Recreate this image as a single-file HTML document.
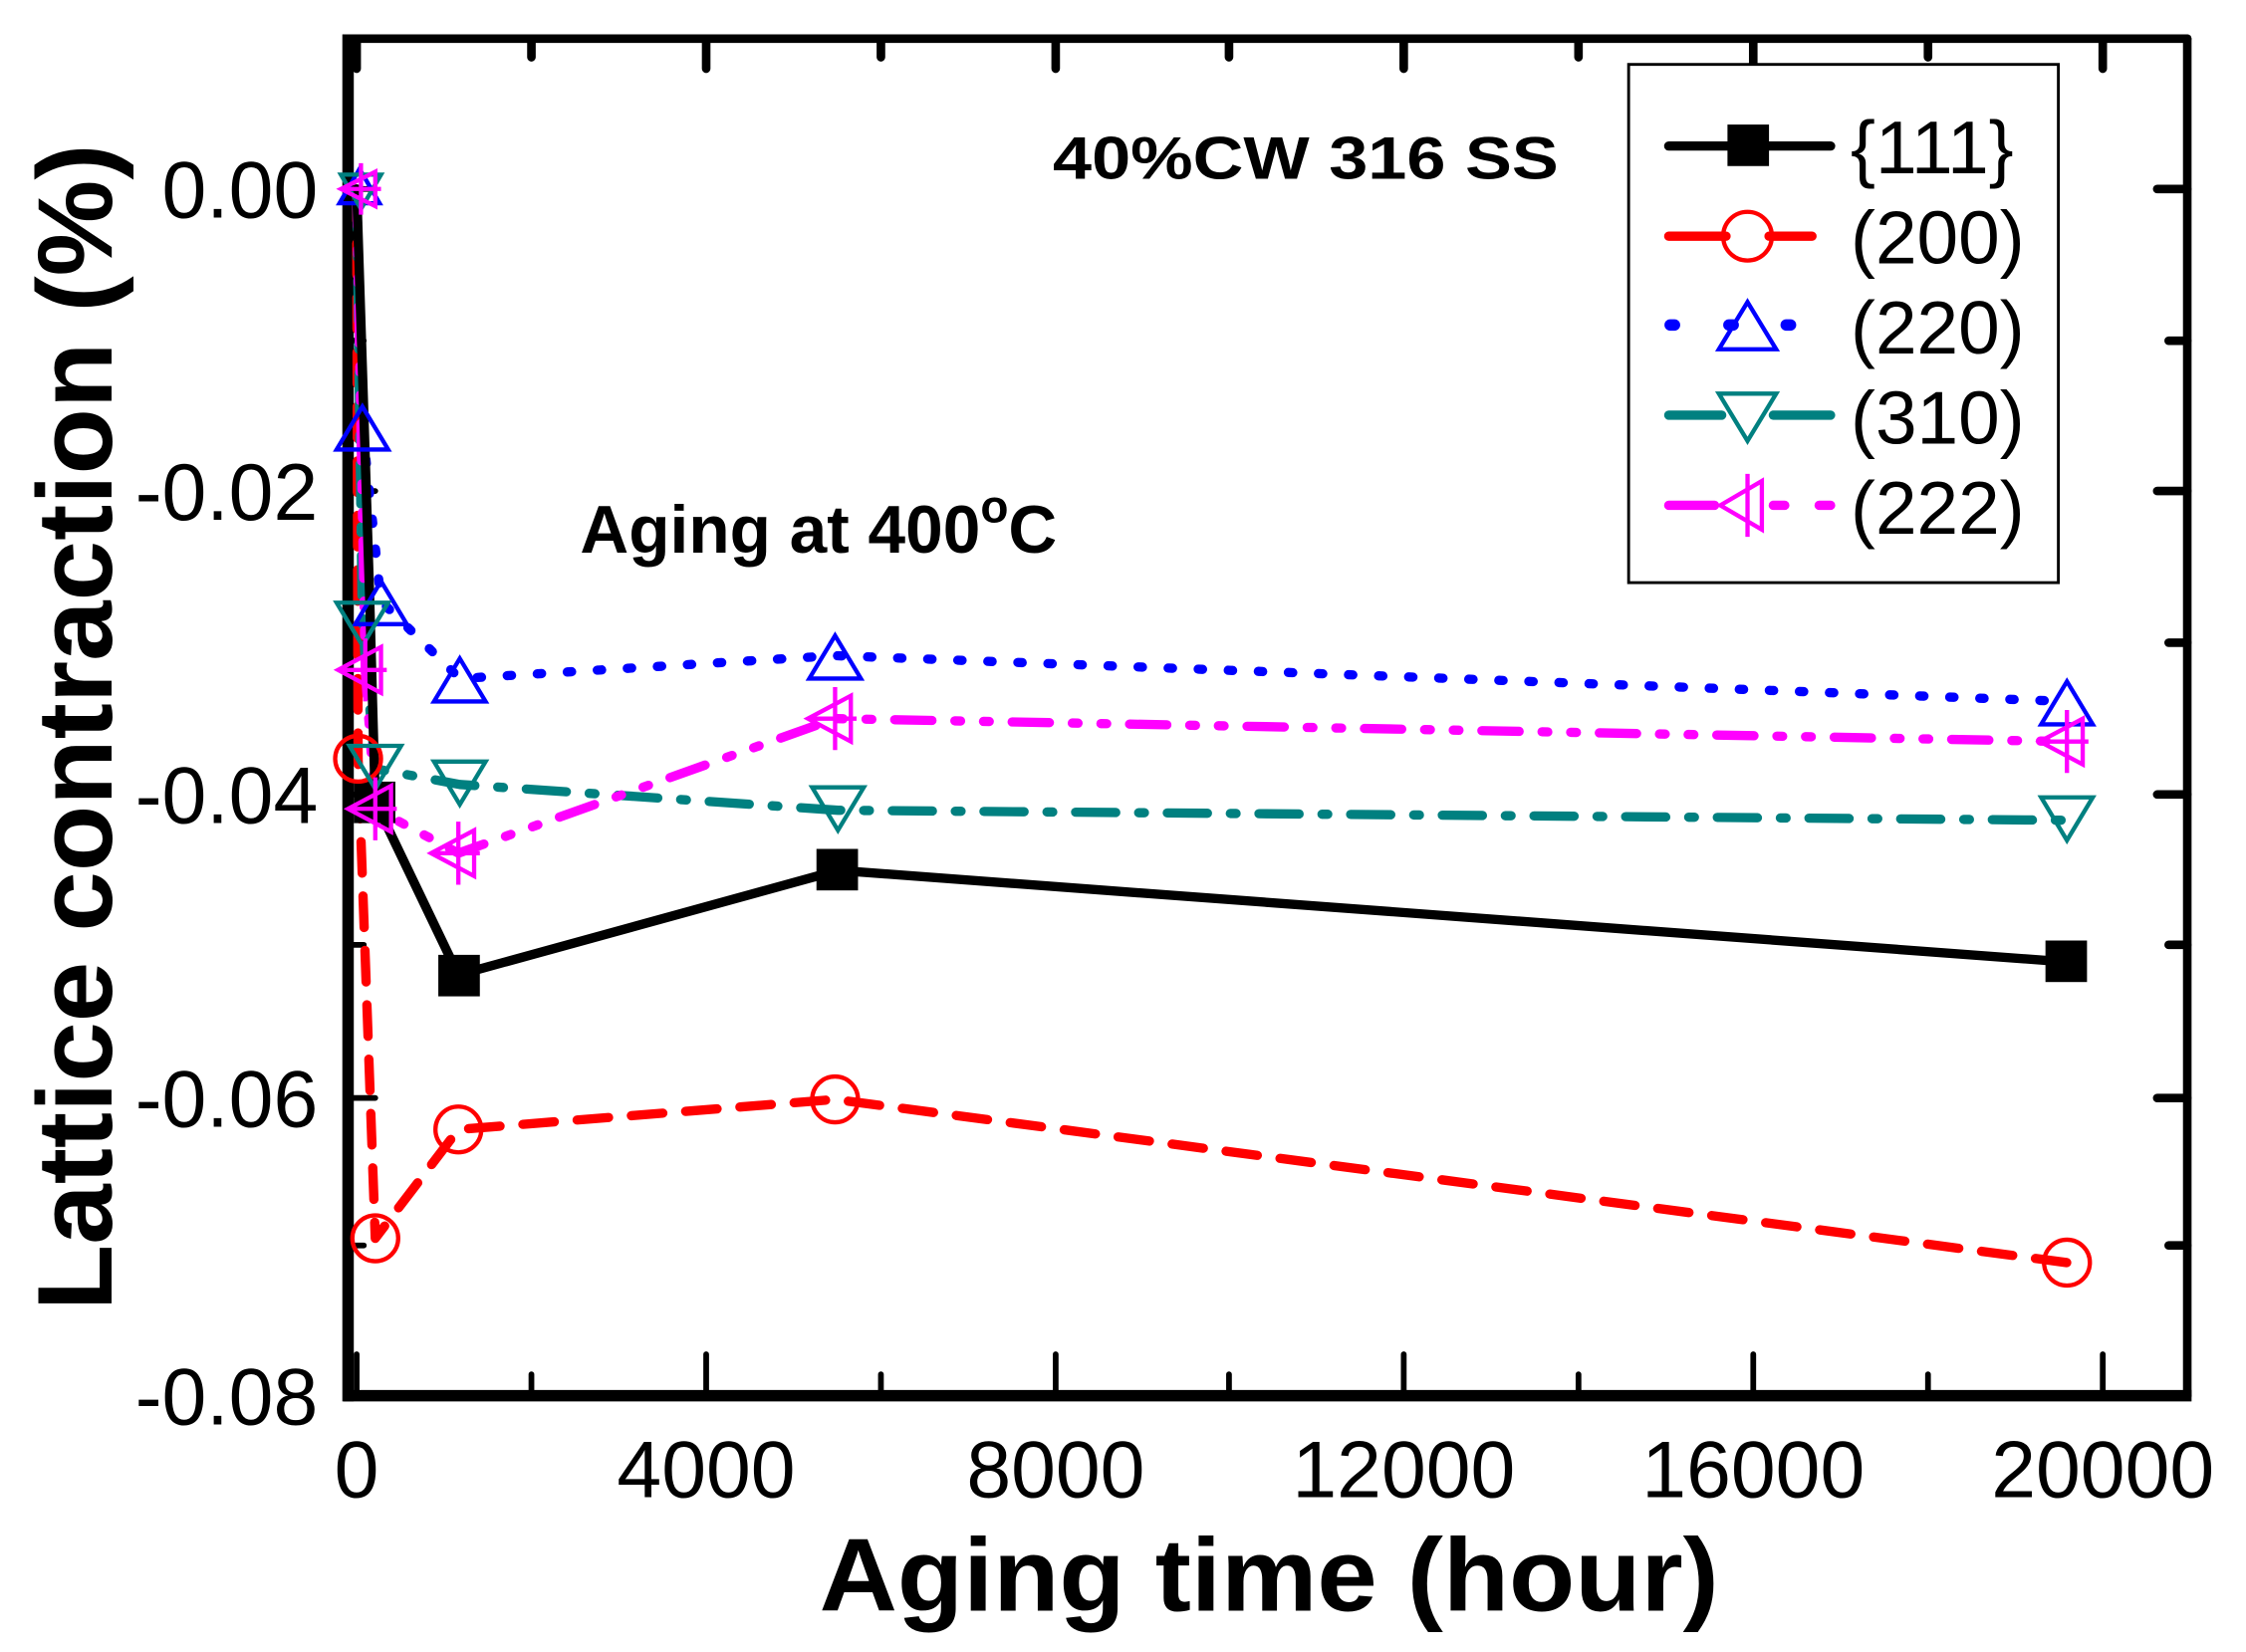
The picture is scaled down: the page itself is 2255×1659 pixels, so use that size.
<!DOCTYPE html>
<html><head><meta charset="utf-8"><style>
html,body{margin:0;padding:0;background:#fff;}
svg{display:block;}
text{font-family:"Liberation Sans",Arial,sans-serif;}
</style></head><body>
<svg width="2255" height="1659" viewBox="0 0 1568 1154" preserveAspectRatio="none" xmlns="http://www.w3.org/2000/svg">
<rect width="1568" height="1154" fill="#fff"/>
<g stroke="#000" stroke-linecap="round" fill="none">
<line x1="243" y1="27" x2="1527" y2="27" stroke-width="6"/>
<line x1="1527" y1="27" x2="1527" y2="975" stroke-width="6"/>
<line x1="243" y1="24" x2="243" y2="979" stroke-width="8" stroke-linecap="butt"/>
<line x1="240" y1="975" x2="1530" y2="975" stroke-width="8" stroke-linecap="butt"/>
<g stroke-width="4">
<path d="M249 975V946M493 975V946M737 975V946M980 975V946M1224 975V946M1468 975V946"/>
<path d="M371 975V960M615 975V960M858 975V960M1102 975V960M1346 975V960"/>
<path d="M249 27V48M493 27V48M737 27V48M980 27V48M1224 27V48M1468 27V48" stroke-width="6"/>
<path d="M371 27V40M615 27V40M858 27V40M1102 27V40M1346 27V40" stroke-width="6"/>
<path d="M1527 132H1506M1527 343H1506M1527 555H1506M1527 767H1506M1527 975H1506" stroke-width="6"/>
<path d="M1527 238H1514M1527 449H1514M1527 660H1514M1527 870H1514" stroke-width="6"/>
<path d="M243 132H262M243 343H262M243 555H262M243 767H262"/>
<path d="M243 238H254M243 449H254M243 660H254M243 870H254"/>
</g>
</g>
<g font-size="56" fill="#000" text-anchor="end">
<text x="222" y="152">0.00</text>
<text x="222" y="363">-0.02</text>
<text x="222" y="575">-0.04</text>
<text x="222" y="787">-0.06</text>
<text x="222" y="995">-0.08</text>
</g>
<g font-size="56" fill="#000" text-anchor="middle">
<text x="249" y="1046">0</text>
<text x="493" y="1046">4000</text>
<text x="737" y="1046">8000</text>
<text x="980" y="1046">12000</text>
<text x="1224" y="1046">16000</text>
<text x="1468" y="1046">20000</text>
</g>
<text x="886" y="1125" font-size="72" font-weight="bold" text-anchor="middle" textLength="628" lengthAdjust="spacingAndGlyphs">Aging time (hour)</text>
<text transform="translate(78,508) rotate(-90)" font-size="74" font-weight="bold" text-anchor="middle" textLength="815" lengthAdjust="spacingAndGlyphs">Lattice contraction (%)</text>
<text x="735" y="125" font-size="42" font-weight="bold" textLength="353" lengthAdjust="spacingAndGlyphs">40%CW 316 SS</text>
<text x="405" y="386" font-size="47" font-weight="bold">Aging at 400<tspan font-size="32" dy="-21">o</tspan><tspan dy="21">C</tspan></text>

<g fill="none" stroke-width="6.5" stroke-linecap="round" stroke-linejoin="round">
<polyline stroke="#f00" stroke-dasharray="22,16" points="249,132 250,530 262,865 320,789 583,768 1443,882"/>
<polyline stroke="#00f" stroke-dasharray="3,18" points="249,132 253,298 266,420 321,474 583,458 1443,490"/>
<polyline stroke="#008080" stroke-dasharray="28,16,4,16" points="249,132 253,437 262,537 321,548 585,566 1443,573"/>
<polyline stroke="#f0f" stroke-dasharray="26,16,4,16,4,16" points="249,132 255,468 262,565 320,596 583,502 1443,518"/>
<polyline stroke="#000" points="249,132 258,415 262,560 320,681 585,608 1443,672"/>
</g>
<g fill="#000">
<rect x="306" y="667" width="29" height="29"/><rect x="570" y="593" width="29" height="29"/><rect x="1428" y="657" width="29" height="29"/><rect x="247" y="546" width="29" height="29"/>
</g>
<g fill="none" stroke="#f00" stroke-width="3">
<circle cx="262" cy="865" r="16"/><circle cx="320" cy="789" r="16"/><circle cx="583" cy="768" r="16"/><circle cx="1443" cy="882" r="16"/><circle cx="250" cy="530" r="16"/>
</g>
<g fill="none" stroke="#00f" stroke-width="3">
<path d="M253 284l18 30h-36z"/><path d="M266 406l18 30h-36z"/><path d="M321 460l18 30h-36z"/><path d="M583 444l18 30h-36z"/><path d="M1443 476l18 30h-36z"/><path d="M251 118l14 24h-28z"/>
</g>
<g fill="none" stroke="#008080" stroke-width="3">
<path d="M253 451l18 -30h-36z"/><path d="M262 551l18 -30h-36z"/><path d="M321 562l18 -30h-36z"/><path d="M585 580l18 -30h-36z"/><path d="M1443 587l18 -30h-36z"/><path d="M252 146l14 -24h-28z"/>
</g>
<g fill="none" stroke="#f0f" stroke-width="3">
<path d="M236 468l30 -16v32zM255 446v44M236 468h34"/>
<path d="M243 565l30 -16v32zM262 543v44M243 565h34"/>
<path d="M301 596l30 -16v32zM320 574v44M301 596h34"/>
<path d="M564 502l30 -16v32zM583 480v44M564 502h34"/>
<path d="M1424 518l30 -16v32zM1443 496v44M1424 518h34"/>
<path d="M238 132l24 -12v24zM252 114v36M238 132h28"/>
</g>

<rect x="1137" y="45" width="300" height="362" fill="#fff" stroke="#000" stroke-width="2"/>
<g stroke-width="6.5" stroke-linecap="round" fill="none">
<line x1="1165" y1="102" x2="1278" y2="102" stroke="#000"/>
<path d="M1165 165h40M1235 165h30" stroke="#f00"/>
<path d="M1166 227h3M1207 227h3M1247 227h3" stroke="#00f" stroke-width="8"/>
<path d="M1165 290h37M1238 290h40" stroke="#008080"/>
<path d="M1165 353h32M1238 353h8M1270 353h8" stroke="#f0f"/>
</g>
<rect x="1206" y="87" width="29" height="29" fill="#000"/>
<circle cx="1220" cy="165" r="17" fill="none" stroke="#f00" stroke-width="3"/>
<path d="M1220 211l20 33h-40z" fill="none" stroke="#00f" stroke-width="3"/>
<path d="M1220 308l20 -33h-40z" fill="none" stroke="#008080" stroke-width="3"/>
<path d="M1201 353l29 -17v34zM1220 331v44" fill="none" stroke="#f0f" stroke-width="3"/>
<g font-size="52" fill="#000">
<text x="1292" y="121">{111}</text>
<text x="1292" y="184">(200)</text>
<text x="1292" y="247">(220)</text>
<text x="1292" y="310">(310)</text>
<text x="1292" y="373">(222)</text>
</g>
</svg>
</body></html>
